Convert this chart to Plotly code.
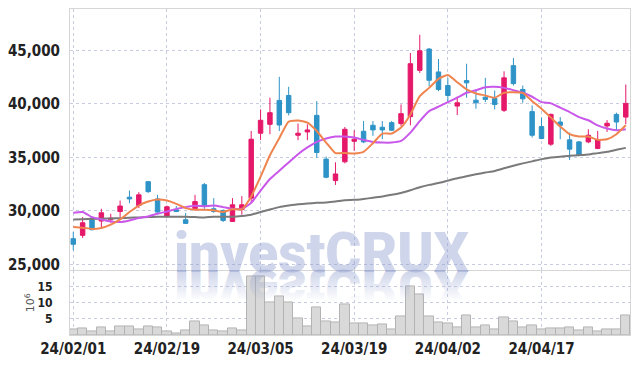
import plotly.graph_objects as go

dates = ["24/02/01","24/02/02","24/02/05","24/02/06","24/02/07","24/02/08","24/02/13","24/02/14","24/02/15","24/02/16",
         "24/02/19","24/02/20","24/02/21","24/02/22","24/02/23","24/02/26","24/02/27","24/02/28","24/02/29","24/03/04",
         "24/03/05","24/03/06","24/03/07","24/03/08","24/03/11","24/03/12","24/03/13","24/03/14","24/03/15","24/03/18",
         "24/03/19","24/03/20","24/03/21","24/03/22","24/03/25","24/03/26","24/03/27","24/03/28","24/03/29","24/04/01",
         "24/04/02","24/04/03","24/04/04","24/04/05","24/04/08","24/04/09","24/04/11","24/04/12","24/04/15","24/04/16",
         "24/04/17","24/04/18","24/04/19","24/04/22","24/04/23","24/04/24","24/04/25","24/04/26","24/04/29","24/04/30"]

open_ = [27400,27710,29330,29050,29170,29940,31280,30500,32730,31120,
         29480,30100,29170,30200,32450,30200,30040,29010,30130,31190,
         37260,38090,40330,40790,37070,37380,38930,34840,32830,34590,
         36510,37440,38000,37820,38250,38160,38810,43140,45130,42990,
         41720,39800,42180,40350,40630,40510,39400,43580,41350,39280,
         37880,36240,38310,36640,36450,36450,35840,37940,39020,38770]
high = [28030,29420,29480,30200,29730,30970,31900,31750,32800,31500,
        30500,30450,29800,31500,32610,31190,30130,31190,31380,37470,
        39490,40580,42530,41600,38160,38090,40260,35090,34540,37840,
        37540,38400,38400,38400,38400,39950,44760,46460,45220,44200,
        42440,40670,43760,41350,42440,41250,43050,44290,41720,39860,
        38720,39100,38770,37320,36540,37630,37470,38490,39180,41810]
low = [26320,27470,28180,28340,28890,29420,30720,30260,31680,29820,
       29330,29890,28800,30040,30200,29820,28960,28960,29640,30750,
       36640,37170,37470,38930,36610,36610,34960,33050,32430,34440,
       35610,36330,37010,36700,37470,37940,38000,42900,41650,41190,
       40260,38960,40580,39550,40170,39490,39240,41720,40110,36860,
       36700,36080,36700,34750,35150,36330,35770,37380,37470,38090]
close = [26880,28890,28240,29820,29330,30450,31120,31500,31800,29890,
         30380,29940,28830,30870,30430,29950,29110,30570,30570,36700,
         38470,39180,38030,39180,37260,37570,35460,33140,33450,37630,
         36700,36450,37570,37570,37540,39090,43760,44970,42210,41350,
         40790,40110,41970,40110,40420,39950,42440,41900,40480,37070,
         36770,39020,38000,35770,35210,37070,36640,38190,38310,40050]

ma_short = [28500,28430,28310,28400,28710,29200,29890,30500,30870,31060,
            30970,30660,30260,30100,30100,30050,29900,30150,30150,31350,
            33200,35200,36800,38350,38450,38250,37470,36390,35400,35420,
            35370,35520,36330,37230,37230,37790,39020,40720,41500,42340,
            42710,42030,41350,40980,40790,40580,41040,41100,41040,40260,
            39550,38720,37880,37170,36950,36950,36640,36700,37170,38000]
ma_mid = [29830,29890,29420,29200,29010,28960,29110,29330,29480,29730,
          29940,30190,30350,30470,30440,30500,30350,30190,30190,30750,
          31900,32980,33750,34530,35300,35930,36450,36770,36950,36950,
          36860,36640,36450,36390,36390,36540,37320,38400,39330,39740,
          40170,40580,41040,41280,41560,41600,41500,41280,41040,40670,
          40170,40050,39650,39240,38770,38470,38000,37700,37540,37630]
ma_long = [29200,29220,29240,29270,29290,29320,29360,29380,29420,29450,
           29450,29450,29450,29420,29390,29450,29450,29450,29520,29640,
           29890,30130,30350,30500,30630,30690,30750,30780,30870,31000,
           31030,31120,31220,31340,31500,31680,31930,32210,32430,32610,
           32830,33050,33230,33420,33580,33730,33980,34220,34440,34630,
           34840,35000,35060,35150,35210,35280,35400,35520,35710,35890]

volume = [1.7,2.0,1.0,2.2,1.0,2.5,2.8,1.7,2.5,2.2,
          1.0,0.6,1.3,4.1,3.1,1.4,1.0,1.9,1.4,18.1,
          18.1,10.2,11.9,10.2,5.0,2.8,8.4,4.3,3.8,9.6,
          3.5,3.7,3.1,3.4,1.6,5.8,15.0,12.6,5.8,3.8,
          3.5,2.2,6.1,2.2,3.1,1.6,5.5,4.1,2.2,3.1,
          1.6,2.0,2.0,2.4,1.3,2.4,1.0,1.6,1.6,6.1]

tick_dates = ["24/02/01","24/02/19","24/03/05","24/03/19","24/04/02","24/04/17"]
price_ticks = [25000,30000,35000,40000,45000]
price_tick_text = ["25,000","30,000","35,000","40,000","45,000"]
vol_ticks = [5,10,15]
vol_tick_text = ["5","10","15"]

UP = "#e5186a"
DOWN = "#2e93c7"
GRID = "#c7cce0"
BORDER = "#d6d6d6"
FAM = "'Liberation Sans Narrow', 'DejaVu Sans Condensed'"
TICKFONT = dict(family=FAM, size=15, color="#222222", weight=700)
VOLFONT = dict(family=FAM, size=12, color="#222222", weight=700)

fig = go.Figure()

fig.add_trace(go.Bar(x=dates, y=volume, xaxis="x", yaxis="y2",
                     marker=dict(color="#d9d9d9", line=dict(color="#b3b3b3", width=1)),
                     hoverinfo="skip", showlegend=False))

fig.add_trace(go.Candlestick(x=dates, open=open_, high=high, low=low, close=close,
                             xaxis="x2", yaxis="y",
                             increasing=dict(line=dict(color=UP, width=1), fillcolor=UP),
                             decreasing=dict(line=dict(color=DOWN, width=1), fillcolor=DOWN),
                             whiskerwidth=0, showlegend=False, hoverinfo="skip"))

for vals, col in [(ma_long, "#7a7a7a"), (ma_mid, "#c957ea"), (ma_short, "#f0844f")]:
    fig.add_trace(go.Scatter(x=dates, y=vals, mode="lines", xaxis="x2", yaxis="y",
                             line=dict(color=col, width=2, shape="spline", smoothing=0.5),
                             hoverinfo="skip", showlegend=False))

xr = [-0.35, 59.45]
split = 0.198

fig.update_layout(
    width=639, height=366,
    margin=dict(l=67, r=8, t=9, b=29),
    paper_bgcolor="white", plot_bgcolor="white",
    bargap=0, boxgap=0.32,
    hovermode=False,
    xaxis=dict(type="category", range=xr, domain=[0, 1], anchor="y2",
               tickmode="array", tickvals=tick_dates, ticktext=tick_dates,
               showgrid=True, gridcolor=GRID, griddash="dot", gridwidth=1,
               showline=True, linecolor=BORDER, mirror=False, ticks="",
               tickfont=TICKFONT, rangeslider=dict(visible=False), zeroline=False),
    xaxis2=dict(type="category", range=xr, domain=[0, 1], anchor="y", matches="x",
                tickmode="array", tickvals=tick_dates, showticklabels=False,
                showgrid=True, gridcolor=GRID, griddash="dot", gridwidth=1,
                showline=True, linecolor=BORDER, mirror=True, ticks="",
                rangeslider=dict(visible=False), zeroline=False),
    yaxis=dict(domain=[split, 1], range=[24430, 48875], anchor="x2",
               tickmode="array", tickvals=price_ticks, ticktext=price_tick_text,
               showgrid=True, gridcolor=GRID, griddash="dot", gridwidth=1,
               showline=True, linecolor=BORDER, mirror=True, ticks="outside",
               ticklen=6, tickcolor="rgba(0,0,0,0)",
               tickfont=TICKFONT, zeroline=False),
    yaxis2=dict(domain=[0, split], range=[0, 20], anchor="x",
                tickmode="array", tickvals=vol_ticks, ticktext=vol_tick_text,
                showgrid=True, gridcolor=GRID, griddash="dot", gridwidth=1,
                showline=True, linecolor=BORDER, mirror=True, ticks="outside",
                ticklen=14, tickcolor="rgba(0,0,0,0)",
                tickfont=VOLFONT, zeroline=False),
    annotations=[
        dict(text="investCRUX", xref="paper", yref="paper", x=0.449, y=0.146,
             xanchor="center", yanchor="bottom", showarrow=False,
             font=dict(family="Roboto", size=55, color="rgba(140,155,205,0.42)", weight=900)),
        dict(text="investCRUX", xref="paper", yref="paper", x=0.449, y=0.146,
             xanchor="center", yanchor="bottom", showarrow=False,
             font=dict(family="Roboto", size=55, color="rgba(140,155,205,0.0)", weight=900)),
        dict(text="10<sup>6</sup>", xref="paper", yref="paper", x=-0.0715, y=0.1,
             xanchor="center", yanchor="middle", showarrow=False, textangle=-90,
             font=dict(family="DejaVu Sans", size=11, color="#555555")),
    ],
)

post = """
var gd = document.getElementById('{plot_id}');
try {
  var NS = 'http://www.w3.org/2000/svg';
  var g = gd.querySelector('g.annotation[data-index="1"]');
  var t = g.querySelector('text');
  var svg = t.ownerSVGElement;
  var defs = svg.querySelector('defs');
  if (!defs) { defs = document.createElementNS(NS, 'defs'); svg.insertBefore(defs, svg.firstChild); }
  var lg = document.createElementNS(NS, 'linearGradient');
  lg.setAttribute('id', 'reflfade');
  lg.setAttribute('x1', '0'); lg.setAttribute('y1', '0');
  lg.setAttribute('x2', '0'); lg.setAttribute('y2', '1');
  [['0.3', '0'], ['0.78', '0.42']].forEach(function(s){
    var e = document.createElementNS(NS, 'stop');
    e.setAttribute('offset', s[0]);
    e.setAttribute('stop-color', 'rgb(140,155,205)');
    e.setAttribute('stop-opacity', s[1]);
    lg.appendChild(e);
  });
  defs.appendChild(lg);
  var bb = t.getBBox();
  var yb = bb.y + bb.height * 0.78;
  var old = t.getAttribute('transform') || '';
  t.setAttribute('transform', old + ' matrix(1,0,0,-1,0,' + (2 * yb) + ')');
  t.style.setProperty('fill', 'url(#reflfade)', 'important');
  t.style.setProperty('fill-opacity', '1', 'important');
  t.style.setProperty('opacity', '1', 'important');
} catch (e) { console.log(e); }
"""

fig.write_html("out.html", post_script=post)
